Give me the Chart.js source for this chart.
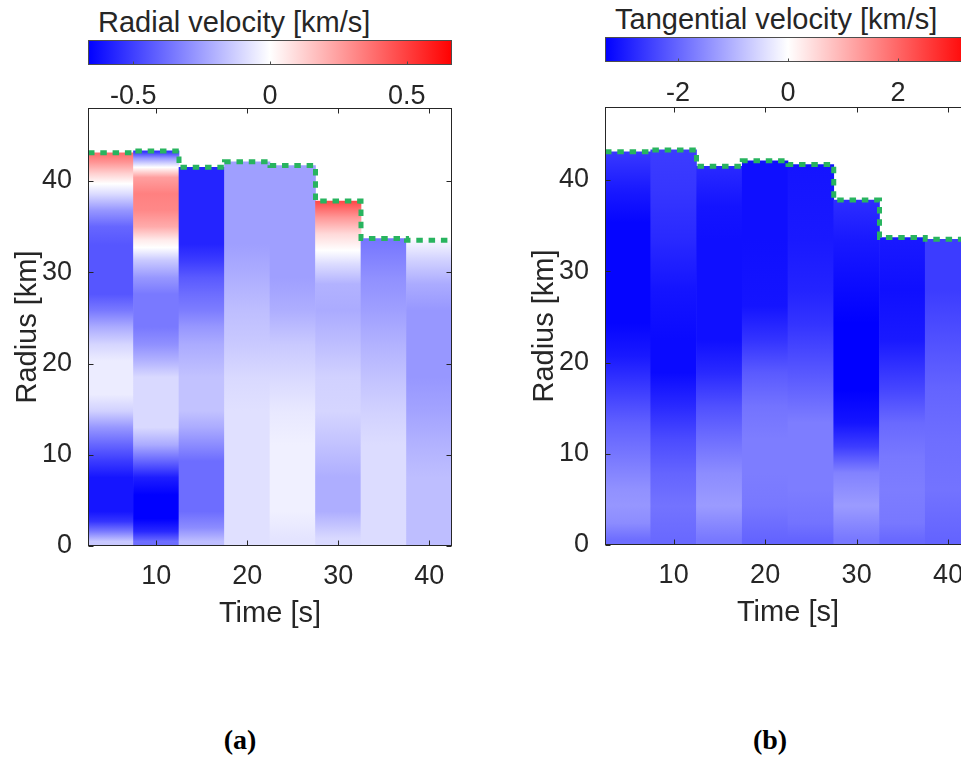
<!DOCTYPE html>
<html>
<head>
<meta charset="utf-8">
<script src="https://cdn.jsdelivr.net/npm/chart.js@4.4.0/dist/chart.umd.min.js"></script>
<style>
  html, body { margin: 0; padding: 0; background: #fff; }
  body { position: relative; width: 961px; height: 757px; overflow: hidden; font-family: "Liberation Sans", Arial, sans-serif; color: #262626; }
  canvas { position: absolute; }
  .cbTitle { position: absolute; font-size: 29px; line-height: 29px; white-space: nowrap; }
  .caption { position: absolute; width: 100px; text-align: center; font-family: "Liberation Serif", "DejaVu Serif", serif; font-weight: bold; font-size: 28px; line-height: 30px; color: #000; }
</style>
</head>
<body>
<div class="cbTitle" style="left:98px; top:8px">Radial velocity [km/s]</div>
<div class="cbTitle" style="left:615px; top:5px">Tangential velocity [km/s]</div>
<canvas id="cbRadial" width="480" height="110" style="left:0; top:0"></canvas>
<canvas id="cbTangential" width="482" height="110" style="left:517px; top:-3px"></canvas>
<canvas id="radialChart" width="480" height="660" style="left:0; top:0"></canvas>
<canvas id="tangentialChart" width="482" height="660" style="left:517px; top:-1px"></canvas>
<div class="caption" style="left:190px; top:725px">(a)</div>
<div class="caption" style="left:720px; top:725px">(b)</div>
<script>
const times = [5, 10, 15, 20, 25, 30, 35, 40];
const surfaceRadius = [43.1, 43.3, 41.5, 42.1, 41.7, 37.8, 33.7, 33.5];
const timeTicks = [10, 20, 30, 40];
const radiusTicks = [0, 10, 20, 30, 40];
const radialTicks = [-0.5, 0, 0.5];
const tangentialTicks = [-2, 0, 2];
const radialLimit = 0.665;
const tangentialLimit = 3.33;

// [radius km, velocity km/s] read up each column, bottom to surface
const radialProfiles = [
    [[0.5, -0.14], [1.6, -0.35], [2.7, -0.53], [3.8, -0.61], [7.5, -0.61], [9.3, -0.51], [11.1, -0.4], [13, -0.27], [14.8, -0.12], [16.6, -0.05], [20.3, -0.05], [22.1, -0.11], [24, -0.22], [25.8, -0.35], [27.6, -0.44], [33, -0.44], [35, -0.4], [36.8, -0.27], [38.6, -0.09], [39.7, 0], [40.8, 0.12], [42, 0.27], [43, 0.38]],
    [[0.5, -0.38], [1.6, -0.56], [3, -0.665], [5.6, -0.665], [7.5, -0.59], [9.3, -0.4], [11.1, -0.22], [13, -0.1], [18.5, -0.1], [20.3, -0.2], [22.1, -0.29], [24, -0.35], [27.6, -0.35], [29.4, -0.27], [31.3, -0.14], [32.7, 0], [33.5, 0.05], [35, 0.22], [36.8, 0.31], [38.6, 0.33], [40.4, 0.25], [41.5, 0], [42.5, -0.27], [43.2, -0.53]],
    [[0.5, -0.17], [2, -0.3], [3.8, -0.38], [9.3, -0.38], [11.1, -0.3], [13, -0.22], [14.8, -0.16], [18.5, -0.16], [22.1, -0.22], [24, -0.27], [25.8, -0.34], [27.6, -0.38], [29.4, -0.43], [31.3, -0.51], [33.1, -0.57], [41.5, -0.57]],
    [[0.5, -0.08], [14.8, -0.08], [18.5, -0.1], [22.1, -0.14], [25.8, -0.17], [29.4, -0.21], [33.1, -0.25], [42.1, -0.25]],
    [[0.8, -0.07], [3.8, -0.04], [11.1, -0.04], [14.8, -0.06], [18.5, -0.1], [22.1, -0.14], [25.8, -0.21], [29.4, -0.25], [41.7, -0.25]],
    [[0.8, -0.1], [3.8, -0.21], [7.5, -0.21], [11.1, -0.16], [14.8, -0.11], [18.5, -0.12], [22.1, -0.17], [25.8, -0.22], [28.7, -0.2], [30.9, -0.09], [32.4, 0], [34.2, 0.1], [36, 0.27], [37.8, 0.48]],
    [[0.5, -0.09], [11.1, -0.09], [14.8, -0.12], [18.5, -0.16], [22.1, -0.2], [25.8, -0.25], [29.4, -0.29], [33.7, -0.36]],
    [[0.5, -0.17], [7.5, -0.17], [11.1, -0.2], [14.8, -0.24], [18.5, -0.27], [25.8, -0.27], [28.7, -0.22], [31.3, -0.12], [33.5, -0.02]]
];

const tangentialProfiles = [
    [[0.6, -1.89], [2.4, -1.5], [4.3, -1.37], [6.1, -1.44], [9.7, -1.76], [13.4, -2.09], [17, -2.55], [20.7, -3.0], [24.3, -3.27], [35.3, -3.27], [38.9, -3.0], [43, -2.6]],
    [[0.6, -1.96], [4.3, -1.83], [7.9, -2.02], [11.6, -2.35], [15.2, -2.8], [18.9, -3.2], [22.5, -3.2], [28, -3.07], [33.5, -2.8], [38.9, -2.62], [43.3, -2.55]],
    [[0.6, -1.76], [4.3, -1.31], [7.9, -1.5], [11.6, -1.89], [15.2, -2.28], [18.9, -2.8], [22.5, -3.13], [33.5, -3.13], [37.1, -3.07], [41.5, -2.8]],
    [[0.6, -2.02], [4.3, -1.76], [7.9, -1.7], [11.6, -1.7], [15.2, -1.83], [18.9, -2.15], [22.5, -2.67], [26.2, -3.07], [33.5, -3.13], [42.1, -3.13]],
    [[0.6, -2.02], [2.4, -1.83], [6.1, -1.7], [13.4, -1.7], [17, -2.02], [20.7, -2.35], [24.3, -2.67], [28, -2.87], [33.5, -3.0], [41.7, -3.07]],
    [[0.6, -1.76], [4.3, -1.31], [7.9, -1.63], [10.8, -2.55], [13.4, -3.07], [17, -3.33], [24.3, -3.33], [28, -3.2], [33.5, -3.0], [37.8, -2.74]],
    [[0.6, -1.96], [2.4, -1.76], [6.1, -1.7], [9.7, -1.76], [13.4, -1.96], [17, -2.42], [22.5, -3.0], [28, -3.13], [33.7, -3.0]],
    [[0.6, -2.02], [6.1, -1.83], [11.6, -1.89], [17, -2.02], [22.5, -2.28], [28, -2.55], [33.5, -2.55]]
];

const TEXT = "#262626";
const FONT = "'Liberation Sans', Arial, sans-serif";
const STEP = 5; // width of one time column [s]

// blue - white - red map, like the colorbars
function velocityColor(v, limit) {
    const t = Math.max(-1, Math.min(1, v / limit));
    if (t < 0) {
        const c = Math.round(255 * (1 + t));
        return `rgb(${c},${c},255)`;
    }
    const c = Math.round(255 * (1 - t));
    return `rgb(255,${c},${c})`;
}

function columnFill(profiles, limit) {
    return (ctx) => {
        const chart = ctx.chart;
        const y = chart.scales.y;
        const i = ctx.dataIndex;
        if (!chart.chartArea || !y || i === undefined) return "#ffffff";
        const top = surfaceRadius[i];
        const g = chart.ctx.createLinearGradient(0, y.getPixelForValue(0), 0, y.getPixelForValue(top));
        profiles[i].forEach(([r, v]) => {
            g.addColorStop(Math.min(Math.max(r / top, 0), 1), velocityColor(v, limit));
        });
        return g;
    };
}

function surfaceLine() {
    const pts = [];
    times.forEach((t, i) => {
        pts.push({ x: t - STEP / 2, y: surfaceRadius[i] });
        pts.push({ x: t + STEP / 2, y: surfaceRadius[i] });
    });
    return pts;
}

// box round the axes with inward ticks, matlab style
const matlabBox = {
    id: "matlabBox",
    afterDraw(chart, args, opts) {
        const { ctx, chartArea: a, scales } = chart;
        const l = Math.round(a.left) + 0.5;
        const r = Math.round(a.right) - 0.5;
        const t = Math.round(a.top) + 0.5;
        const b = Math.round(a.bottom) - 0.5;
        const len = opts.tickLength;
        ctx.save();
        ctx.strokeStyle = opts.color;
        ctx.lineWidth = 1;
        ctx.strokeRect(l, t, r - l, b - t);
        ctx.beginPath();
        scales.x.ticks.forEach(tk => {
            const x = Math.round(scales.x.getPixelForValue(tk.value)) + 0.5;
            ctx.moveTo(x, b);
            ctx.lineTo(x, b - len);
            if (opts.allSides) {
                ctx.moveTo(x, t);
                ctx.lineTo(x, t + len);
            }
        });
        if (opts.allSides) {
            scales.y.ticks.forEach(tk => {
                const y = Math.round(scales.y.getPixelForValue(tk.value)) + 0.5;
                ctx.moveTo(l, y);
                ctx.lineTo(l + len, y);
                ctx.moveTo(r, y);
                ctx.lineTo(r - len, y);
            });
        }
        ctx.stroke();
        ctx.restore();
    }
};

function createPanel(id, profiles, limit) {
    const ctx = document.getElementById(id);
    return new Chart(ctx, {
        data: {
            datasets: [{
                type: "line",
                data: surfaceLine(),
                borderColor: "#28b45f",
                borderWidth: 5,
                borderDash: [6.5, 5.8],
                pointRadius: 0,
                fill: false,
                tension: 0,
                order: 0
            }, {
                type: "bar",
                data: times.map((t, i) => ({ x: t, y: [0, surfaceRadius[i]] })),
                backgroundColor: columnFill(profiles, limit),
                borderWidth: 0,
                barPercentage: 1,
                categoryPercentage: 1,
                order: 1
            }]
        },
        options: {
            responsive: false,
            animation: false,
            events: [],
            layout: { padding: { top: 108, right: 28, left: 0, bottom: 0 } },
            plugins: {
                legend: { display: false },
                tooltip: { enabled: false },
                matlabBox: { color: TEXT, tickLength: 5, allSides: true }
            },
            scales: {
                x: {
                    type: "linear",
                    min: times[0] - STEP / 2,
                    max: times[times.length - 1] + STEP / 2,
                    offset: false,
                    grid: { display: false },
                    border: { display: false },
                    afterBuildTicks: s => { s.ticks = timeTicks.map(v => ({ value: v })); },
                    afterFit: s => { s.height = 114; },
                    ticks: {
                        color: TEXT,
                        font: { family: FONT, size: 27 },
                        padding: 6,
                        maxRotation: 0,
                        autoSkip: false,
                        callback: v => String(v)
                    },
                    title: {
                        display: true,
                        text: "Time [s]",
                        color: TEXT,
                        font: { family: FONT, size: 29 },
                        padding: { top: 0, bottom: 29 }
                    }
                },
                y: {
                    type: "linear",
                    min: 0,
                    max: 48,
                    grid: { display: false },
                    border: { display: false },
                    afterBuildTicks: s => { s.ticks = radiusTicks.map(v => ({ value: v })); },
                    afterFit: s => { s.width = 88; },
                    ticks: {
                        color: TEXT,
                        font: { family: FONT, size: 27 },
                        padding: 8,
                        autoSkip: false,
                        callback: v => String(v)
                    },
                    title: {
                        display: true,
                        text: "Radius [km]",
                        color: TEXT,
                        font: { family: FONT, size: 29 },
                        padding: { top: 11, bottom: 0 }
                    }
                }
            }
        },
        plugins: [matlabBox]
    });
}

function createColorbar(id, limit, tickValues) {
    const ctx = document.getElementById(id);
    return new Chart(ctx, {
        type: "bar",
        data: {
            labels: ["cb"],
            datasets: [{
                data: [[-limit, limit]],
                backgroundColor: (c) => {
                    const chart = c.chart;
                    const x = chart.scales.x;
                    if (!chart.chartArea || !x) return "#ffffff";
                    const g = chart.ctx.createLinearGradient(x.getPixelForValue(-limit), 0, x.getPixelForValue(limit), 0);
                    g.addColorStop(0, velocityColor(-limit, limit));
                    g.addColorStop(0.5, velocityColor(0, limit));
                    g.addColorStop(1, velocityColor(limit, limit));
                    return g;
                },
                borderWidth: 0,
                barPercentage: 1,
                categoryPercentage: 1
            }]
        },
        options: {
            indexAxis: "y",
            responsive: false,
            animation: false,
            events: [],
            layout: { padding: { top: 40, left: 88, right: 28, bottom: 0 } },
            plugins: {
                legend: { display: false },
                tooltip: { enabled: false },
                matlabBox: { color: "#4d4d4d", tickLength: 3, allSides: false }
            },
            scales: {
                x: {
                    type: "linear",
                    position: "bottom",
                    min: -limit,
                    max: limit,
                    grid: { display: false },
                    border: { display: false },
                    afterBuildTicks: s => { s.ticks = tickValues.map(v => ({ value: v })); },
                    afterFit: s => { s.height = 45; },
                    ticks: {
                        color: TEXT,
                        font: { family: FONT, size: 27 },
                        padding: 7,
                        maxRotation: 0,
                        autoSkip: false,
                        callback: v => String(v)
                    }
                },
                y: { display: false }
            }
        },
        plugins: [matlabBox]
    });
}

createColorbar("cbRadial", radialLimit, radialTicks);
createColorbar("cbTangential", tangentialLimit, tangentialTicks);
createPanel("radialChart", radialProfiles, radialLimit);
createPanel("tangentialChart", tangentialProfiles, tangentialLimit);
</script>
</body>
</html>
